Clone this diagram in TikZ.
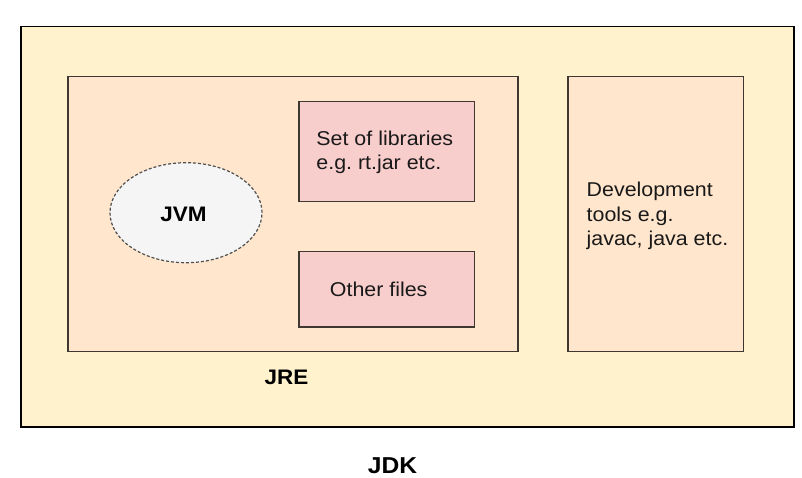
\documentclass[tikz,border=0pt]{standalone}
\usepackage{fontspec}
\setmainfont{Liberation Sans}[FakeStretch=1.07]
\frenchspacing
\usetikzlibrary{shapes.geometric}
\definecolor{jdkfill}{HTML}{FFF2CC}
\definecolor{jrefill}{HTML}{FFE6CC}
\definecolor{libfill}{HTML}{F8CECC}
\definecolor{jvmfill}{HTML}{F5F5F5}
\definecolor{inborder}{HTML}{3F3830}
\definecolor{jvmborder}{HTML}{505050}
\tikzset{
  outerbox/.style={draw=black, line width=1.6pt, fill=jdkfill, anchor=north west, inner sep=0pt},
  innerbox/.style={draw=inborder, line width=1.5pt, anchor=north west, inner sep=0pt},
  jvmshape/.style={ellipse, draw=jvmborder, fill=jvmfill, line width=1.2pt, dash pattern=on 3pt off 2pt, inner sep=0pt},
  txt/.style={inner sep=0pt, text=black!90, font=\fontsize{20}{24.5}\selectfont, align=left},
  btxt/.style={inner sep=0pt, font=\fontsize{21}{25}\selectfont\bfseries},
}
\begin{document}
\begin{tikzpicture}[x=1pt, y=-1pt]
\useasboundingbox (0,0) rectangle (802,477);
\node[outerbox, minimum width=773pt, minimum height=400.5pt] (jdk) at (20,25.5) {};
\node[innerbox, fill=jrefill, minimum width=450pt, minimum height=275pt] (jre) at (67,75.7) {};
\node[innerbox, fill=jrefill, minimum width=175.5pt, minimum height=275pt] (dev) at (567,75.7) {};
\node[innerbox, fill=libfill, minimum width=175.5pt, minimum height=100pt] (lib) at (298,100.7) {};
\node[innerbox, fill=libfill, minimum width=175.5pt, minimum height=75.5pt] (oth) at (298,250.7) {};
\node[jvmshape, minimum width=152pt, minimum height=100pt] (jvm) at (186,212.7) {};
\node[btxt, anchor=base] (jvmt) at (183.5,221.5) {JVM};
\node[txt, anchor=west] (libt) at (316.2,152.3) {Set of libraries\\e.g. rt.jar etc.};
\node[txt, anchor=base] (otht) at (378.7,296) {Other files};
\node[txt, anchor=west] (devt) at (586.5,216) {Development\\tools e.g.\\javac, java etc.};
\node[btxt, anchor=base] (jret) at (286.5,384) {JRE};
\node[btxt, anchor=base, font=\fontsize{23}{27}\selectfont\bfseries] (jdkt) at (392.5,473) {JDK};
\end{tikzpicture}
\end{document}
